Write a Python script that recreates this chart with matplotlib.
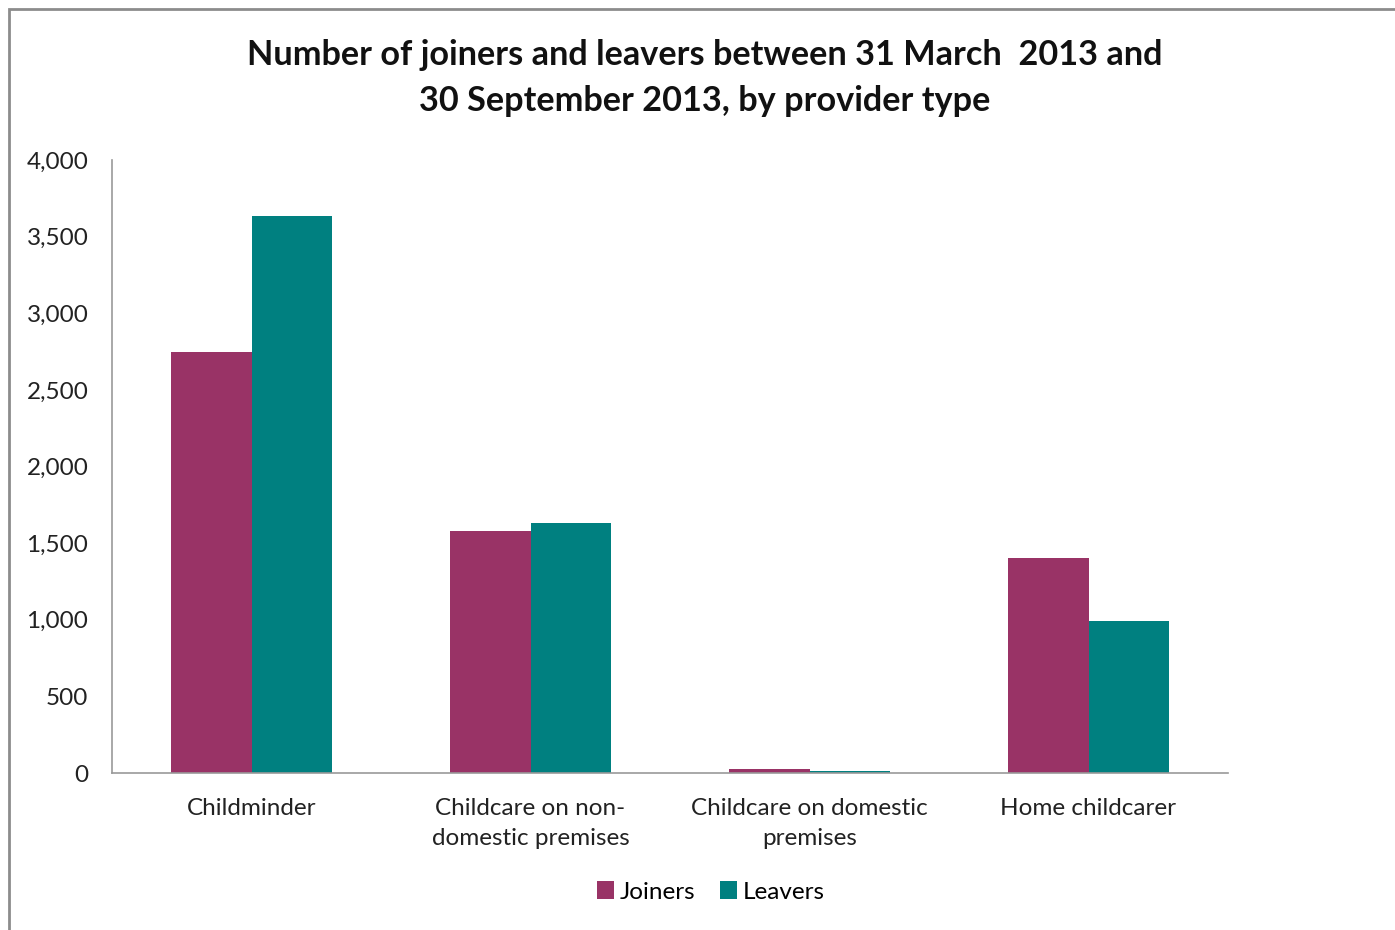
import numpy as np
import matplotlib
matplotlib.use("Agg")
import matplotlib.pyplot as plt
from matplotlib.patches import Rectangle

plt.rcParams['font.family'] = ['Lato', 'DejaVu Sans']

categories = ["Childminder", "Childcare on non-\ndomestic premises",
              "Childcare on domestic\npremises", "Home childcarer"]
joiners = [2747, 1579, 25, 1403]
leavers = [3635, 1631, 10, 992]
y_ticks = [0, 500, 1000, 1500, 2000, 2500, 3000, 3500, 4000]

joiner_col = "#993366"
leaver_col = "#008080"

fig = plt.figure(figsize=(13.95, 9.3), dpi=100)
ax = fig.add_axes([112 / 1395, 1 - 773 / 930, 1116 / 1395, 613 / 930])

# outer chart frame (only top/left visible in reference)
fig.patches.append(Rectangle((9 / 1395, -0.1), 1.2, 1 - 9 / 930 + 0.1,
                             transform=fig.transFigure, fill=False,
                             edgecolor="#8c8c8c", lw=2))

x = np.arange(len(categories))
w = 0.287
ax.bar(x - w / 2, joiners, w, color=joiner_col, label="Joiners")
ax.bar(x + w / 2, leavers, w, color=leaver_col, label="Leavers")

ax.set_xlim(-0.5, 3.5)
ax.set_ylim(0, 4000)
ax.set_yticks(y_ticks)
ax.set_yticklabels([f"{v:,}" for v in y_ticks], fontsize=17.5, color="#222222")
ax.set_xticks(x)
ax.set_xticklabels(categories, fontsize=17.5, color="#222222", linespacing=1.55)
ax.tick_params(axis="x", length=0, pad=18)
ax.tick_params(axis="y", length=0, pad=17)

for s in ["top", "right"]:
    ax.spines[s].set_visible(False)
for s in ["left", "bottom"]:
    ax.spines[s].set_color("#999999")
    ax.spines[s].set_linewidth(1.2)

fig.text(0.505, 1 - 78 / 930,
         "Number of joiners and leavers between 31 March  2013 and\n30 September 2013, by provider type",
         ha="center", va="center", fontsize=24.7, fontweight="bold",
         linespacing=1.55, color="#111111")

fig.legend(loc="center", bbox_to_anchor=(711 / 1395, 1 - 892 / 930), ncol=2,
           frameon=False, fontsize=17.5, handlelength=0.7, handleheight=0.7,
           handletextpad=0.25, columnspacing=1.0)

fig.savefig("out.png", dpi=100)
